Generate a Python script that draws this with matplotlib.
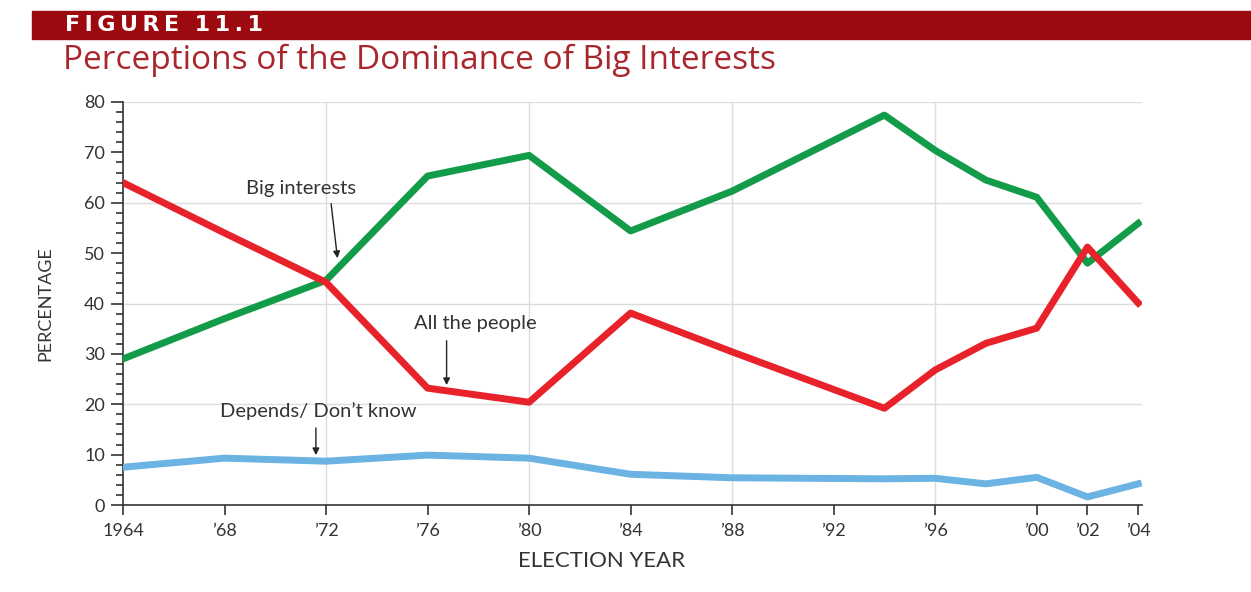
import matplotlib
matplotlib.use("Agg")
import matplotlib.pyplot as plt
from matplotlib.patches import Rectangle
from matplotlib.ticker import MultipleLocator

# values
years = [1964, 1968, 1972, 1976, 1980, 1984, 1988, 1994, 1996, 1998, 2000, 2002, 2004]
big_interests = [29, 37, 44.6, 65.3, 69.4, 54.4, 62.3, 77.4, 70.4, 64.5, 61.1, 48, 55.9]
all_people = [64, 54, 44.2, 23.2, 20.4, 38.1, 30.4, 19.2, 26.8, 32.1, 35.1, 51.2, 40.1]
depends = [7.5, 9.3, 8.7, 9.9, 9.3, 6.1, 5.4, 5.2, 5.3, 4.2, 5.5, 1.6, 4.2]

tick_years = [1964, 1968, 1972, 1976, 1980, 1984, 1988, 1992, 1996, 2000, 2002, 2004]
tick_labels = ["1964", "\u201968", "\u201972", "\u201976", "\u201980", "\u201984",
               "\u201988", "\u201992", "\u201996", "\u201900", "\u201902", "\u201904"]

plt.rcParams['font.family'] = ['Lato', 'DejaVu Sans']

fig = plt.figure(figsize=(12.51, 5.92), dpi=100)
fig.patch.set_facecolor('white')

# header bar
fig.patches.append(Rectangle((32 / 1251, 1 - 39 / 592), 1.0, 28 / 592,
                             transform=fig.transFigure, color='#9c0a10', zorder=0))
header = "\u2009".join("FIGURE") + "  " + "\u2009".join("11.1")
fig.text(65 / 1251, 1 - 25 / 592, header, color='white',
         fontsize=16, fontweight='bold', family='DejaVu Sans', va='center')
fig.text(63 / 1251, 1 - 69 / 592, "Perceptions of the Dominance of Big Interests",
         color='#a8262c', fontsize=24, family='Open Sans', va='baseline')

ax = fig.add_axes([123 / 1251, 1 - 505 / 592, 1019 / 1251, 403 / 592])

ax.plot(years, big_interests, color='#129b48', lw=5, zorder=3)
ax.plot(years, all_people, color='#e8222a', lw=5, zorder=3)
ax.plot(years, depends, color='#6ab3e3', lw=5, zorder=3)

ax.set_xlim(1964, 2004.15)
ax.set_ylim(0, 80)

for x in [1972, 1980, 1988, 1996]:
    ax.axvline(x, color='#dcdcdc', lw=1, zorder=1)
for y in [20, 40, 60, 80]:
    ax.axhline(y, color='#dcdcdc', lw=1, zorder=1)

for s in ['top', 'right']:
    ax.spines[s].set_visible(False)
for s in ['left', 'bottom']:
    ax.spines[s].set_color('#333333')
    ax.spines[s].set_linewidth(1.2)

ax.set_xticks(tick_years)
ax.set_xticklabels(tick_labels)
ax.yaxis.set_major_locator(MultipleLocator(10))
ax.yaxis.set_minor_locator(MultipleLocator(2))
ax.tick_params(axis='y', which='major', length=9, width=1.2, color='#333333',
               labelsize=13, labelcolor='#333333', pad=4)
ax.tick_params(axis='y', which='minor', length=5, width=1.2, color='#333333')
ax.tick_params(axis='x', which='major', length=7, width=1.2, color='#333333',
               labelsize=13, labelcolor='#333333', pad=6)

ax.set_ylabel("PERCENTAGE", fontsize=13, color='#333333', labelpad=22)
ax.set_xlabel("ELECTION YEAR", fontsize=16, color='#333333')
ax.xaxis.set_label_coords((602 - 123) / 1019, -0.115)

arrow = dict(arrowstyle='-|>', color='#222222', lw=1, mutation_scale=10,
             shrinkA=0, shrinkB=0)
ax.annotate("", xy=(1972.45, 49.0), xytext=(1972.2, 59.8), arrowprops=arrow)
ax.text(1971.0, 62.9, "Big interests", fontsize=14.5, color='#333333',
        ha='center', va='center')
ax.annotate("", xy=(1976.75, 23.8), xytext=(1976.75, 32.6), arrowprops=arrow)
ax.text(1977.9, 36.1, "All the people", fontsize=14.5, color='#333333',
        ha='center', va='center')
ax.annotate("", xy=(1971.6, 9.9), xytext=(1971.6, 15.3), arrowprops=arrow)
ax.text(1971.7, 18.7, "Depends/ Don\u2019t know", fontsize=14.5, color='#333333',
        ha='center', va='center')

fig.savefig("out.png", dpi=100)
